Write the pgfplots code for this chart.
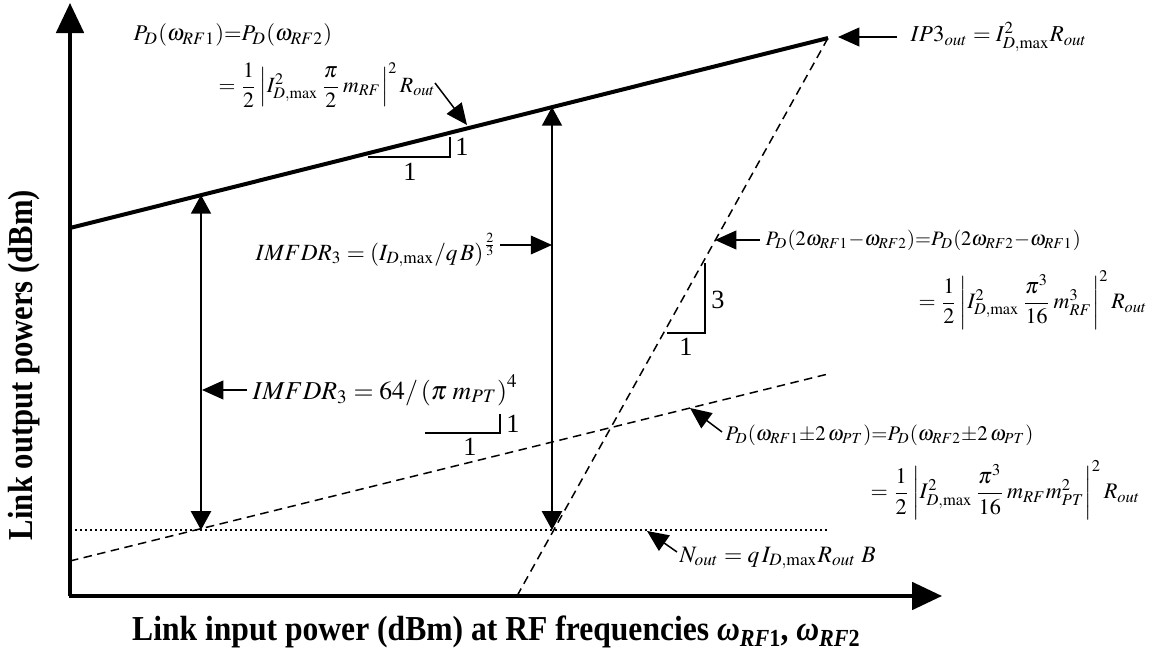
\documentclass[border=0pt]{standalone}
\usepackage{amsmath}
\usepackage{graphicx}
\usepackage{mathptmx}
\usepackage{fontspec}
\setmainfont{Liberation Serif}
\usepackage{pgfplots}
\pgfplotsset{compat=1.18}
\usetikzlibrary{arrows.meta}

% coordinates are reference pixels, y counted downward
\tikzset{
  big/.style={-{Triangle[length=12pt,width=11pt]}},
  ann/.style={-{Triangle[length=8.5pt,width=7.5pt]}, line width=0.6pt},
  dbl/.style={{Triangle[length=7.5pt,width=8pt]}-{Triangle[length=7.5pt,width=8pt]}, line width=0.8pt},
  lbl/.style={inner sep=0pt, font=\fontsize{10.5}{12}\selectfont},
}
\newcommand{\fs}[1]{\fontsize{#1}{#1}\selectfont}
\newcommand{\bw}[1]{{\bfseries\itshape ω}\raisebox{-0.35ex}{\fs{9.8}\bfseries\itshape RF\upshape #1}}

\begin{document}
\begin{tikzpicture}
\begin{axis}[
  name=ax,
  scale only axis,
  width=464pt, height=264pt,
  xmin=0, xmax=1160, ymin=0, ymax=660,
  y dir=reverse,
  hide axis,
  clip=false,
]
% axes
\addplot[line width=1.4pt, big] coordinates {(70,596) (70,3)};
\addplot[line width=1.4pt, big] coordinates {(69.3,596) (942,596)};

% fundamental
\addplot[line width=1.6pt] coordinates {(70,228) (828,38)};
% third-order intermod
\addplot[line width=0.6pt, dash pattern=on 3.4pt off 2.2pt] coordinates {(517,596) (828,38)};
% pilot-tone products
\addplot[line width=0.6pt, dash pattern=on 3.4pt off 2.2pt] coordinates {(70,561) (828,374)};
% noise floor
\addplot[line width=0.9pt, dash pattern=on 0.9pt off 1.1pt] coordinates {(70,530) (828,530)};

% IMFDR arrows
\addplot[dbl] coordinates {(201,195) (201,530)};
\addplot[dbl] coordinates {(552,107) (552,530)};

% slope triangles
\addplot[line width=0.5pt] coordinates {(368,157) (450,157) (450,137)};
\addplot[line width=0.5pt] coordinates {(667,333) (705,333) (705,263)};
\addplot[line width=0.5pt] coordinates {(425,433) (500,433) (500,414)};
\node[lbl] at (axis cs:462,147) {1};
\node[lbl] at (axis cs:410,172) {1};
\node[lbl] at (axis cs:718,300) {3};
\node[lbl] at (axis cs:686,347) {1};
\node[lbl] at (axis cs:513,424) {1};
\node[lbl] at (axis cs:470,447) {1};

% annotation arrows
\addplot[ann] coordinates {(435,83) (467,125)};
\addplot[ann] coordinates {(897,37) (838,37)};
\addplot[ann] coordinates {(500,245) (552,245)};
\addplot[ann] coordinates {(760,240) (715,240)};
\addplot[ann] coordinates {(247,390) (202,390)};
\addplot[ann] coordinates {(722,432) (690,408)};
\addplot[ann] coordinates {(677,552) (647,531)};

% labels
\node[inner sep=0pt, anchor=west, font=\fs{9}] at (axis cs:133,35)
  {$P_D(\omega_{RF1}){=}P_D(\omega_{RF2})$};
\node[inner sep=0pt, anchor=west, font=\fs{8.7}] at (axis cs:218,85)
  {$=\dfrac{1}{2}\left|I_{D,\max}^{2}\,\dfrac{\pi}{2}\,m_{RF}\right|^{2}R_{out}$};
\node[inner sep=0pt, anchor=west, font=\fs{9.1}] at (axis cs:910,37)
  {$IP3_{out}=I_{D,\max}^{2}R_{out}$};
\node[inner sep=0pt, anchor=west, font=\fs{9.3}] at (axis cs:255,250)
  {$IMFDR_3=\left(I_{D,\max}/q\,B\right)^{\frac{2}{3}}$};
\node[inner sep=0pt, anchor=west, font=\fs{10.3}] at (axis cs:252,390)
  {$IMFDR_3=64/\left(\pi\;m_{PT}\right)^4$};
\node[inner sep=0pt, anchor=west, font=\fs{8.2}] at (axis cs:765,240)
  {$P_D(2\omega_{RF1}{-}\omega_{RF2}){=}P_D(2\omega_{RF2}{-}\omega_{RF1})$};
\node[inner sep=0pt, anchor=west, font=\fs{8.8}] at (axis cs:918,300)
  {$=\dfrac{1}{2}\left|I^2_{D,\max}\,\dfrac{\pi^3}{16}\,m^3_{RF}\right|^2 R_{out}$};
\node[inner sep=0pt, anchor=west, font=\fs{8.3}] at (axis cs:725,435)
  {$P_D(\omega_{RF1}{\pm}2\,\omega_{PT}){=}P_D(\omega_{RF2}{\pm}2\,\omega_{PT})$};
\node[inner sep=0pt, anchor=west, font=\fs{8.9}] at (axis cs:870,490)
  {$=\dfrac{1}{2}\left|I^2_{D,\max}\,\dfrac{\pi^3}{16}\,m_{RF}m^2_{PT}\right|^2 R_{out}$};
\node[inner sep=0pt, anchor=west, font=\fs{9.4}] at (axis cs:679,558)
  {$N_{out}=q\,I_{D,\max}R_{out}\;B$};

% axis titles
\node[inner sep=0pt, rotate=90]
  at (axis cs:24,365) {\resizebox{140pt}{\height}{\fs{14}\bfseries Link output powers (dBm)}};
\node[inner sep=0pt]
  at (axis cs:496,632) {\resizebox{291pt}{\height}{\fs{14}\bfseries Link input power (dBm) at RF frequencies \bw{1}, \bw{2}}};
\end{axis}
\pgfresetboundingbox
\path (ax.south west) rectangle (ax.north east);
\end{tikzpicture}
\end{document}
